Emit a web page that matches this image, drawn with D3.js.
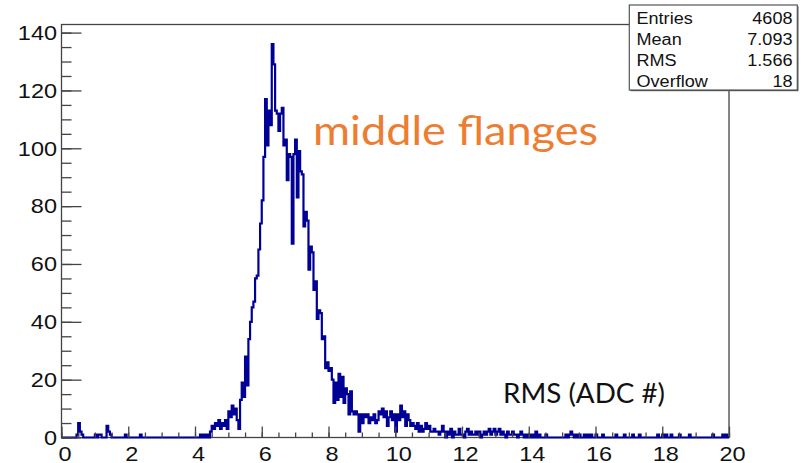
<!DOCTYPE html>
<html><head><meta charset="utf-8">
<script src="https://cdn.jsdelivr.net/npm/d3@7/dist/d3.min.js"></script>
<style>body{margin:0;background:#fff}</style>
</head><body>
<svg id="chart" width="803" height="463"></svg>
<script>
// ---- data ----
const binWidth = 0.05;
const xDomain = [0, 20];
const yDomain = [0, 142.8];
const counts = [
  0,0,0,0,0,0,0,0,0,1, 5,2,1,0,0,0,0,0,0,0,
  1,0,1,1,0,0,0,4,2,1, 0,0,0,0,0,0,0,0,1,0,
  0,0,0,0,0,0,0,1,0,0, 0,0,0,0,0,0,0,0,0,0,
  0,0,0,0,0,0,0,0,0,0, 0,0,0,0,0,0,0,0,0,0,
  0,0,0,1,0,1,0,1,0,2, 4,3,5,4,6,3,5,4,6,3,
  9,7,11,8,10,6,3,13,19,14, 28,18,34,40,45,47,55,56,65,74,
  82,97,117,101,113,108,136,129,113,112, 106,112,114,101,103,89,98,97,67,98,
  103,83,99,92,91,73,78,75,58,66, 64,51,54,41,44,43,34,35,24,26,
  23,24,20,12,19,13,22,14,21,12, 17,15,8,16,9,8,9,8,2,8,
  5,8,7,8,5,7,6,8,5,6, 9,8,10,7,9,4,7,9,6,8,
  2,8,6,11,7,9,4,8,6,4, 5,4,3,5,2,4,2,3,5,3,
  4,2,2,3,2,2,1,2,4,2, 0,2,1,3,0,2,1,1,3,1,
  1,0,2,3,1,2,1,1,2,1, 2,0,1,2,1,2,3,1,2,3,
  1,2,3,1,2,1,0,2,1,1, 2,1,1,0,1,2,1,0,1,0,
  1,0,1,0,2,0,1,0,0,0, 1,0,0,0,0,0,0,0,0,0,
  0,0,1,0,1,2,1,0,1,0, 1,0,0,1,0,1,0,1,0,0,
  1,0,0,0,1,0,0,0,0,0, 0,0,1,0,0,0,0,1,0,0,
  0,0,1,0,0,0,1,0,0,0, 0,0,0,0,0,0,0,1,0,0,
  1,0,1,0,0,1,0,0,0,0, 1,0,0,0,0,0,1,0,0,0,
  0,0,0,0,0,0,0,0,0,0, 1,0,0,0,0,0,1,0,1,0
];
const xMajorTicks = [0,2,4,6,8,10,12,14,16,18,20];
const xMinorTicks = d3.range(0, 20.001, 0.5);
const yMajorTicks = [0,20,40,60,80,100,120,140];
const yMinorTicks = d3.range(0, 141, 5);
const statsLabels = ["Entries","Mean","RMS","Overflow"];
const statsValues = ["4608","7.093","1.566","18"];
const annotation = "middle flanges";
const xTitle = "RMS (ADC #)";

// ---- layout ----
const svg = d3.select("#chart");
const L = 61.5, R = 729, T = 24.5, B = 437.5;
const x = d3.scaleLinear().domain(xDomain).range([L, R]);
const y = d3.scaleLinear().domain(yDomain).range([B, T]);
const axisColor = "#444";
const font = "'Liberation Sans', Arial, Helvetica, sans-serif";
const stretch = 1.12;

// frame
svg.append("rect").attr("x", L).attr("y", T).attr("width", R - L).attr("height", B - T)
  .attr("fill", "none").attr("stroke", axisColor).attr("stroke-width", 1.3);

// histogram step path
const pts = [[xDomain[0], 0]];
counts.forEach((c, i) => {
  const lo = xDomain[0] + i * binWidth;
  pts.push([lo, c]); pts.push([lo + binWidth, c]);
});
pts.push([xDomain[1], 0]);
const line = d3.line().x(d => x(d[0])).y(d => y(d[1]));
svg.append("path").attr("d", line(pts)).attr("fill", "none")
  .attr("stroke", "#000096").attr("stroke-width", 2.2).attr("stroke-linejoin", "miter");

// axes
function styleAxis(g) {
  g.select(".domain").remove();
  g.selectAll("line").attr("stroke", axisColor).attr("stroke-width", 1.3);
  g.selectAll("text").attr("font-family", font).attr("font-size", 21).attr("fill", "#111");
}
svg.append("g").attr("transform", `translate(0,${B})`)
  .call(d3.axisBottom(x).tickValues(xMinorTicks).tickSize(-5).tickFormat(""))
  .call(styleAxis);
const gx = svg.append("g").attr("transform", `translate(0,${B})`)
  .call(d3.axisBottom(x).tickValues(xMajorTicks).tickSize(-11).tickPadding(9).tickFormat(d3.format("d")))
  .call(styleAxis);
gx.selectAll("text").attr("transform", `translate(3,0) scale(${stretch},1)`);
svg.append("g").attr("transform", `translate(${L},0)`)
  .call(d3.axisLeft(y).tickValues(yMinorTicks).tickSize(-10).tickFormat(""))
  .call(styleAxis);
const gy = svg.append("g").attr("transform", `translate(${L},0)`)
  .call(d3.axisLeft(y).tickValues(yMajorTicks).tickSize(-20).tickPadding(4).tickFormat(d3.format("d")))
  .call(styleAxis);
gy.selectAll("text").attr("transform", `scale(${stretch},1)`);

// stats box
const bx = 629.3, by = 5, bw = 168, bh = 85;
svg.append("rect").attr("x", bx + 1.2).attr("y", by + 1.2).attr("width", bw).attr("height", bh)
  .attr("fill", "#555");
svg.append("rect").attr("x", bx).attr("y", by).attr("width", bw).attr("height", bh)
  .attr("fill", "#fff").attr("stroke", "#555").attr("stroke-width", 1.2);
statsLabels.forEach((s, i) => {
  const yy = 24 + i * 21;
  svg.append("text").attr("transform", `translate(636.5,${yy}) scale(1.13,1)`).text(s)
    .attr("font-family", font).attr("font-size", 16).attr("fill", "#111");
  svg.append("text").attr("transform", `translate(792.5,${yy}) scale(1.13,1)`).text(statsValues[i])
    .attr("text-anchor", "end").attr("font-family", font).attr("font-size", 16).attr("fill", "#111");
});

// annotations
svg.append("text").attr("x", 313).attr("y", 145).text(annotation)
  .attr("font-family", "Lato, 'Open Sans', sans-serif").attr("font-size", 40)
  .attr("fill", "#ED7D31").attr("textLength", 285).attr("lengthAdjust", "spacingAndGlyphs");
svg.append("text").attr("x", 503).attr("y", 403).text(xTitle)
  .attr("font-family", "Lato, 'Open Sans', sans-serif").attr("font-size", 27)
  .attr("fill", "#111").attr("textLength", 162).attr("lengthAdjust", "spacingAndGlyphs");
</script>
</body></html>
